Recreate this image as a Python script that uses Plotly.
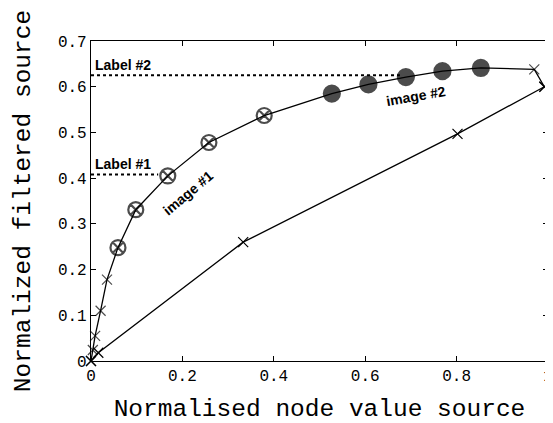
import plotly.graph_objects as go

# Upper curve (filtered) data
upper_x = [0.0, 0.004, 0.009, 0.021, 0.035, 0.059, 0.098, 0.168, 0.258, 0.379,
           0.527, 0.607, 0.689, 0.769, 0.853, 0.970, 0.992]
upper_y = [0.0, 0.024, 0.055, 0.110, 0.178, 0.248, 0.331, 0.405, 0.478, 0.537,
           0.585, 0.605, 0.621, 0.634, 0.641, 0.638, 0.600]
upper_kind = ["x", "x", "x", "x", "x", "o", "o", "o", "o", "o",
              "f", "f", "f", "f", "f", "x", "x"]

# Lower curve data
lower_x = [0.0, 0.016, 0.333, 0.802, 0.992]
lower_y = [0.0, 0.018, 0.260, 0.497, 0.600]

# Reference levels
label_names = ["Label #1", "Label #2"]
label_levels = [0.408, 0.625]
label_ends = [0.147, 0.676]

image_names = ["image #1", "image #2"]
image_x = [0.212, 0.712]
image_y = [0.368, 0.579]
image_angles = [-40, -10]

x_ticks = [0, 0.2, 0.4, 0.6, 0.8, 1]
x_ticklabels = ["0", "0.2", "0.4", "0.6", "0.8", "1"]
y_ticks = [0, 0.1, 0.2, 0.3, 0.4, 0.5, 0.6, 0.7]
y_ticklabels = ["0", "0.1", "0.2", "0.3", "0.4", "0.5", "0.6", "0.7"]

sym_map = {"x": "x-thin-open", "o": "circle-x-open", "f": "circle"}
size_map = {"x": 10, "o": 15, "f": 16}

fig = go.Figure()

for lvl, end in zip(label_levels, label_ends):
    fig.add_trace(go.Scatter(x=[0, end], y=[lvl, lvl], mode="lines",
                             line=dict(color="black", width=2, dash="dot"),
                             showlegend=False, hoverinfo="skip"))

fig.add_trace(go.Scatter(
    x=lower_x, y=lower_y, mode="lines+markers",
    line=dict(color="black", width=1.3),
    marker=dict(symbol="x-thin-open", size=10, color="black",
                line=dict(color="black", width=1.2)),
    showlegend=False, cliponaxis=False))

fig.add_trace(go.Scatter(
    x=upper_x, y=upper_y, mode="lines+markers",
    line=dict(color="black", width=1.3),
    marker=dict(symbol=[sym_map[k] for k in upper_kind],
                size=[size_map[k] for k in upper_kind],
                color="black",
                line=dict(color="black", width=[1.2 if k == "x" else 2.2 for k in upper_kind])),
    showlegend=False, cliponaxis=False))

for name, lvl in zip(label_names, label_levels):
    fig.add_annotation(x=0.005, y=lvl, xref="x", yref="y", text="<b>" + name + "</b>",
                       showarrow=False, xanchor="left", yanchor="bottom", yshift=0,
                       font=dict(family="Liberation Sans, Arial", size=14, color="black"))

for name, xx, yy, ang in zip(image_names, image_x, image_y, image_angles):
    fig.add_annotation(x=xx, y=yy, xref="x", yref="y", text="<b>" + name + "</b>",
                       showarrow=False, textangle=ang,
                       font=dict(family="Liberation Sans, Arial", size=14, color="black"))

mono = "Liberation Mono, Courier New, monospace"
# The page body adds an 8px margin, so the figure is sized to fit the visible window.
fig.update_layout(
    width=545, height=415,
    margin=dict(l=83, r=5, t=33, b=62),
    paper_bgcolor="white", plot_bgcolor="white",
    xaxis=dict(range=[0, 1], tickvals=x_ticks, ticktext=x_ticklabels,
               ticks="inside", ticklen=5, tickcolor="black", mirror="allticks",
               showline=True, linecolor="black", linewidth=1.2, showgrid=False,
               zeroline=False, automargin=False,
               tickfont=dict(family=mono, size=16, color="black"),
               title=dict(text="Normalised node value source",
                          font=dict(family=mono, size=24.5, color="black"), standoff=14)),
    yaxis=dict(range=[0, 0.7], tickvals=y_ticks, ticktext=y_ticklabels,
               ticks="inside", ticklen=5, tickcolor="black", mirror="allticks",
               showline=True, linecolor="black", linewidth=1.2, showgrid=False,
               zeroline=False, automargin=False,
               tickfont=dict(family=mono, size=16, color="black"),
               title=dict(text="Normalized filtered source",
                          font=dict(family=mono, size=24.5, color="black"), standoff=20)),
)

fig.write_html("out.html")
